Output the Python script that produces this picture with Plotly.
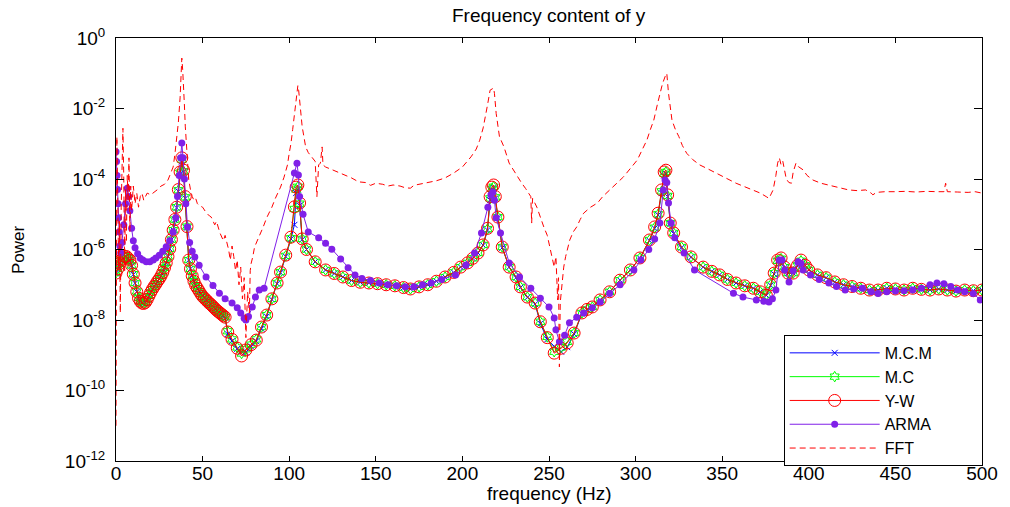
import plotly.graph_objects as go

# ---- data (power given as log10 of the value) ----

# shared frequency grid of the three AR estimates (Hz)
est_freq = list(range(64)) + [
    64.5, 67, 70, 72.5, 75, 78, 81, 84, 87, 90,
    93, 95, 98, 101, 103, 104, 105, 106, 107.5, 110,
    115, 121, 126, 131, 136, 141, 146, 151, 156, 161,
    166, 170, 175, 180, 185, 190, 195, 199, 203, 206,
    209, 212, 214.5, 216, 217, 218, 219, 220.5, 223, 227,
    231, 233.5, 237.5, 242, 245, 249, 253, 257, 260.5, 264.5,
    269, 272, 275, 279.5, 285, 291, 297, 302.5, 308, 311,
    313, 315, 316.5, 317.5, 318.5, 320, 322, 326.5, 332, 339,
    344, 348.5, 353, 358, 363, 368, 372, 375.5, 378, 380,
    382, 384, 386, 388, 391, 393.5, 395.5, 398, 400, 405,
    410, 415, 420, 425, 430, 435, 440, 445, 450, 455,
    460, 465, 470, 475, 480, 485, 490, 495, 500,
]

yw_log10 = [
    -6.67, -6.55, -6.4, -6.3, -6.25, -6.2, -6.2, -6.25,
    -6.3, -6.45, -6.7, -6.95, -7.2, -7.38, -7.47, -7.52,
    -7.53, -7.5, -7.42, -7.32, -7.22, -7.13, -7.05, -6.98,
    -6.9, -6.83, -6.75, -6.65, -6.52, -6.38, -6.2, -5.98,
    -5.72, -5.45, -5.15, -4.8, -4.3, -3.8, -3.4, -3.75,
    -4.5, -5.35, -6.3, -6.55, -6.75, -6.9, -7.02, -7.1,
    -7.18, -7.26, -7.33, -7.38, -7.43, -7.48, -7.53, -7.57,
    -7.62, -7.67, -7.72, -7.76, -7.8, -7.84, -7.88, -7.92,
    -8.34, -8.55, -8.8, -9.02, -8.85, -8.7, -8.57, -8.2, -7.86, -7.4,
    -6.95, -6.64, -6.16, -5.65, -4.79, -4.23, -4.17, -4.68, -5.7, -6.0,
    -6.35, -6.58, -6.68, -6.78, -6.88, -6.93, -6.95, -6.97, -7.0, -7.03,
    -7.08, -7.12, -7.06, -7.0, -6.9, -6.78, -6.65, -6.5, -6.38, -6.25,
    -6.1, -5.87, -5.4, -4.5, -4.23, -4.17, -4.5, -5.08, -5.93, -6.5,
    -6.78, -7.06, -7.35, -7.52, -8.05, -8.5, -8.94, -8.8, -8.65, -8.37,
    -7.8, -7.7, -7.63, -7.43, -7.2, -6.87, -6.58, -6.24, -5.73, -5.36,
    -4.97, -4.31, -3.8, -3.75, -4.45, -5.25, -5.53, -5.93, -6.21, -6.5,
    -6.62, -6.72, -6.85, -6.95, -7.03, -7.1, -7.2, -7.3, -7.0, -6.67,
    -6.3, -6.24, -6.5, -6.67, -6.67, -6.45, -6.3, -6.45, -6.58, -6.72,
    -6.8, -6.92, -7.0, -7.05, -7.1, -7.15, -7.15, -7.1, -7.12, -7.15,
    -7.1, -7.13, -7.15, -7.12, -7.15, -7.18, -7.15, -7.17, -7.15,
]

mc_log10 = [
    -6.66, -6.55, -6.41, -6.3, -6.24, -6.2, -6.21, -6.25,
    -6.31, -6.45, -6.7, -6.95, -7.19, -7.37, -7.47, -7.51,
    -7.53, -7.49, -7.42, -7.32, -7.22, -7.13, -7.05, -6.98,
    -6.9, -6.83, -6.75, -6.65, -6.52, -6.38, -6.2, -5.98,
    -5.72, -5.45, -5.15, -4.8, -4.32, -3.82, -3.45, -3.78,
    -4.52, -5.35, -6.3, -6.55, -6.75, -6.9, -7.02, -7.1,
    -7.18, -7.26, -7.33, -7.38, -7.43, -7.48, -7.53, -7.57,
    -7.62, -7.67, -7.72, -7.76, -7.8, -7.84, -7.88, -7.92,
    -8.32, -8.55, -8.78, -8.95, -8.83, -8.7, -8.55, -8.2, -7.86, -7.4,
    -6.95, -6.64, -6.18, -5.68, -4.85, -4.3, -4.22, -4.7, -5.7, -6.0,
    -6.35, -6.58, -6.68, -6.78, -6.88, -6.93, -6.95, -6.97, -7.0, -7.03,
    -7.08, -7.12, -7.06, -7.0, -6.9, -6.78, -6.65, -6.5, -6.38, -6.25,
    -6.1, -5.87, -5.42, -4.55, -4.28, -4.22, -4.52, -5.08, -5.93, -6.5,
    -6.78, -7.06, -7.35, -7.52, -8.05, -8.48, -8.9, -8.78, -8.62, -8.37,
    -7.8, -7.7, -7.63, -7.43, -7.2, -6.87, -6.58, -6.24, -5.73, -5.38,
    -5.0, -4.35, -3.85, -3.8, -4.48, -5.25, -5.53, -5.93, -6.21, -6.5,
    -6.62, -6.72, -6.85, -6.95, -7.03, -7.1, -7.2, -7.28, -7.0, -6.67,
    -6.32, -6.26, -6.5, -6.67, -6.67, -6.45, -6.32, -6.45, -6.58, -6.72,
    -6.8, -6.92, -7.0, -7.05, -7.1, -7.15, -7.15, -7.1, -7.12, -7.15,
    -7.1, -7.13, -7.15, -7.12, -7.15, -7.18, -7.15, -7.17, -7.15,
]

mcm_log10 = [
    -6.68, -6.56, -6.41, -6.31, -6.25, -6.21, -6.21, -6.26,
    -6.31, -6.46, -6.71, -6.96, -7.2, -7.38, -7.48, -7.52,
    -7.53, -7.5, -7.42, -7.32, -7.22, -7.13, -7.05, -6.98,
    -6.9, -6.83, -6.75, -6.65, -6.52, -6.38, -6.2, -5.98,
    -5.72, -5.45, -5.16, -4.82, -4.35, -3.85, -3.5, -3.8,
    -4.55, -5.38, -6.3, -6.55, -6.75, -6.9, -7.02, -7.1,
    -7.18, -7.26, -7.33, -7.38, -7.43, -7.48, -7.53, -7.57,
    -7.62, -7.67, -7.72, -7.76, -7.8, -7.84, -7.88, -7.93,
    -8.4, -8.6, -8.82, -8.9, -8.92, -8.75, -8.6, -8.25, -7.9, -7.42,
    -6.97, -6.66, -6.2, -5.7, -5.3, -4.4, -4.3, -4.75, -5.72, -6.0,
    -6.35, -6.58, -6.68, -6.78, -6.88, -6.93, -6.95, -6.97, -7.0, -7.03,
    -7.08, -7.12, -7.06, -7.0, -6.9, -6.78, -6.65, -6.5, -6.38, -6.25,
    -6.1, -5.88, -5.45, -4.6, -4.3, -4.25, -4.55, -5.1, -5.95, -6.5,
    -6.8, -7.08, -7.36, -7.55, -8.1, -8.55, -8.75, -8.9, -8.77, -8.4,
    -7.82, -7.7, -7.63, -7.43, -7.2, -6.87, -6.58, -6.25, -5.75, -5.4,
    -5.02, -4.4, -3.9, -3.85, -4.5, -5.28, -5.55, -5.95, -6.22, -6.5,
    -6.62, -6.72, -6.85, -6.95, -7.03, -7.1, -7.2, -7.3, -7.02, -6.7,
    -6.33, -6.27, -6.52, -6.67, -6.67, -6.47, -6.33, -6.45, -6.58, -6.72,
    -6.8, -6.92, -7.0, -7.05, -7.1, -7.15, -7.15, -7.1, -7.12, -7.15,
    -7.1, -7.13, -7.15, -7.12, -7.15, -7.18, -7.15, -7.17, -7.15,
]

arma_freq = [
    0, 0.3, 0.6, 0.9, 1.2, 1.5, 1.8, 2.2, 2.7, 3.5,
    4.5, 5.5, 6.5, 7.3, 8, 9, 10, 11, 12.5, 14,
    15.5, 17.5, 19.5, 21.5, 23, 25, 27, 29, 31, 33,
    34.5, 35.5, 36.5, 37.3, 38, 38.7, 39.5, 40.3, 41.3, 42.5,
    44, 45.5, 48, 52, 56, 59.7, 63, 67, 70, 72,
    74, 75, 76.5, 78.7, 80.5, 82.7, 85.5, 103, 104.5, 105.3,
    106, 108, 111, 117, 121, 124.6, 129.7, 134, 138, 142,
    147, 152, 157, 162, 167, 172, 177, 182, 188, 196,
    202, 207, 211, 214.7, 216.5, 217.6, 218.5, 219.5, 222, 227,
    233, 239.5, 245, 250, 253, 254, 256, 259, 261.8, 266,
    270, 275, 279.6, 285, 291, 299, 303, 307.6, 311, 314,
    316, 317, 318, 319, 320.5, 322.6, 328, 334, 356.5, 362,
    369.7, 374, 377, 379, 381, 383, 384.5, 386, 388.6, 391,
    393.8, 395.5, 396.7, 401, 406, 411.6, 416, 421, 426, 431,
    436, 440, 445, 450, 455, 460, 465, 470, 474, 478,
    482, 486, 490, 495, 499,
]

arma_log10 = [
    -3.23, -3.5, -3.9, -4.3, -4.7, -5.1, -5.5, -5.9, -6.1, -5.8,
    -5.3, -4.7, -4.26, -4.5, -4.9, -5.4, -5.75, -5.95, -6.12, -6.25,
    -6.3, -6.35, -6.35, -6.3, -6.24, -6.16, -6.05, -5.92, -5.75, -5.5,
    -5.1, -4.5, -3.9, -3.4, -2.98, -3.4, -4.0, -4.7, -5.36, -5.8,
    -6.05, -6.21, -6.45, -6.78, -7.02, -7.24, -7.4, -7.52, -7.65, -7.8,
    -7.95, -8.0, -7.9, -7.63, -7.35, -7.15, -7.1, -3.83, -3.55, -3.89,
    -4.5, -5.0, -5.5, -5.67, -5.82, -5.99, -6.27, -6.52, -6.72, -6.82,
    -6.88, -6.95, -7.0, -7.03, -7.06, -7.06, -7.0, -6.95, -6.85, -6.72,
    -6.45, -6.1, -5.53, -4.8, -4.45, -4.37, -4.6, -5.1, -5.53, -6.38,
    -6.78, -7.1, -7.38, -7.63, -7.94, -8.28, -8.62, -8.43, -8.08, -7.92,
    -7.8, -7.65, -7.49, -7.25, -7.0, -6.58, -6.3, -6.0, -5.7, -5.25,
    -4.31, -4.03, -4.1, -4.68, -5.25, -5.67, -6.1, -6.58, -7.24, -7.35,
    -7.43, -7.47, -7.49, -7.4, -7.15, -6.3, -6.3, -6.58, -6.92, -6.6,
    -6.35, -6.4, -6.58, -6.72, -6.85, -6.95, -7.05, -7.15, -7.12, -7.1,
    -7.2, -7.25, -7.2, -7.18, -7.17, -7.15, -7.1, -7.0, -6.95, -6.97,
    -7.05, -7.15, -7.2, -7.25, -7.43,
]

fft_freq = [
    0, 0.5, 1, 1.5, 2, 2.5, 3, 3.5, 4, 4.5,
    5, 5.5, 6, 6.5, 7, 7.5, 8, 8.5, 9, 10,
    11, 12, 13, 14, 15, 16, 17, 18, 20, 22,
    24, 26, 28, 30, 32, 33, 34, 35, 36, 37,
    37.5, 38, 38.5, 39, 39.5, 40, 41, 42, 43, 44,
    45, 46, 47, 48, 50, 52, 54, 55, 57, 58,
    60, 62, 63, 65, 66, 67, 68, 69, 70, 71,
    72, 73, 74, 75, 76, 77, 77.5, 78, 79, 80,
    82, 84, 85, 87, 89, 90, 92, 94, 95, 97,
    99, 100, 101, 102, 103, 104, 105, 105.5, 106, 107,
    107.5, 108.5, 109.5, 111, 113, 115, 116, 117, 118, 119,
    119.5, 121, 124, 127, 130, 133, 136, 140, 144, 147,
    150, 154, 157, 160, 164, 167, 170, 172, 175, 180,
    185, 190, 195, 200, 203, 205, 208, 210, 212, 213,
    214.5, 216, 217, 218, 218.5, 219.5, 221.4, 224, 227, 230,
    232, 234, 236.5, 239.5, 240, 240.5, 243, 245, 247, 249,
    250, 251.5, 253, 254, 255, 255.5, 256, 256.5, 257.7, 258.5,
    259.6, 261, 262, 264, 266, 268, 270, 274, 278, 281,
    285, 289, 293, 297, 301, 304, 306.5, 308.5, 310.5, 312.5,
    314, 315.5, 317, 318, 319, 320, 321, 323, 325, 327,
    329.5, 333, 337, 342, 346.7, 352, 358, 363, 368, 372,
    375.4, 377, 378.5, 379.4, 381, 382, 383, 384, 385, 386,
    387, 388.5, 390, 391, 392.6, 394, 396.7, 399, 402.4, 407,
    411.6, 417, 423, 428, 432.8, 436, 437, 439, 444, 450,
    456, 462, 468, 474, 478, 479, 480, 486, 492, 496,
    500,
]

fft_log10 = [
    -11.0, -2.8, -4.5, -6.5, -5.2, -7.8, -4.8, -3.3, -2.56, -4.0,
    -6.6, -4.3, -5.8, -3.9, -4.6, -3.4, -5.5, -4.2, -4.9, -4.2,
    -4.7, -4.4, -4.8, -4.5, -4.4, -4.6, -4.5, -4.4, -4.45, -4.38,
    -4.3, -4.2, -4.15, -4.03, -3.8, -3.66, -3.3, -2.9, -2.4, -1.7,
    -1.2, -0.57, -0.9, -1.3, -1.9, -2.5, -3.3, -4.03, -4.3, -4.5,
    -4.6, -4.55, -4.7, -4.75, -4.8, -4.95, -5.05, -5.08, -5.3, -5.2,
    -5.53, -5.75, -5.6, -6.0, -6.3, -5.9, -6.2, -6.6, -6.3, -7.0,
    -6.5, -7.4, -6.8, -8.5, -7.2, -7.8, -6.6, -6.4, -6.2, -5.93,
    -5.7, -5.5, -5.36, -5.1, -4.9, -4.8, -4.55, -4.35, -4.23, -3.95,
    -3.6, -3.27, -3.0, -2.6, -2.2, -1.8, -1.35, -1.5, -1.76, -2.2,
    -2.52, -2.8, -3.09, -3.25, -3.37, -3.5, -4.5, -3.6, -3.55, -3.09,
    -3.6, -3.66, -3.72, -3.78, -3.83, -3.9, -3.97, -4.08, -4.1, -4.18,
    -4.12, -4.15, -4.2, -4.17, -4.2, -4.25, -4.26, -4.18, -4.15, -4.12,
    -4.05, -3.97, -3.83, -3.66, -3.5, -3.37, -3.15, -2.9, -2.55, -2.24,
    -1.9, -1.48, -1.45, -1.42, -1.57, -2.14, -2.8, -3.09, -3.55, -3.8,
    -3.94, -4.1, -4.27, -4.5, -5.25, -4.55, -4.8, -5.1, -5.36, -5.6,
    -5.82, -6.1, -6.5, -6.2, -7.43, -6.8, -9.33, -7.5, -6.87, -6.5,
    -6.2, -5.9, -5.73, -5.5, -5.36, -5.15, -4.97, -4.8, -4.68, -4.5,
    -4.31, -4.12, -3.94, -3.7, -3.46, -3.15, -2.9, -2.6, -2.33, -1.9,
    -1.57, -1.3, -1.1, -1.0, -1.57, -2.0, -2.33, -2.6, -2.8, -3.05,
    -3.27, -3.45, -3.6, -3.72, -3.83, -3.97, -4.12, -4.22, -4.31, -4.4,
    -4.5, -4.55, -4.4, -4.31, -3.9, -3.55, -3.4, -3.6, -3.5, -3.74,
    -4.0, -4.1, -4.12, -3.8, -3.55, -3.65, -3.74, -3.9, -4.03, -4.12,
    -4.17, -4.25, -4.31, -4.33, -4.31, -4.4, -4.45, -4.38, -4.36, -4.36,
    -4.35, -4.37, -4.35, -4.36, -4.36, -4.12, -4.36, -4.37, -4.38, -4.36,
    -4.4,
]

x_ticks = [0, 50, 100, 150, 200, 250, 300, 350, 400, 450, 500]
y_tick_exponents = [-12, -10, -8, -6, -4, -2, 0]
y_tick_labels = [f"10<sup>{e}</sup>" for e in y_tick_exponents]

FONT = "Liberation Sans, Arial, sans-serif"
PAD = "&nbsp;" * 10  # matlab legend boxes are wider than their text


def to_power(log_values):
    return [10 ** v for v in log_values]


fig = go.Figure()

fig.add_trace(go.Scatter(
    x=est_freq, y=to_power(mcm_log10), name="M.C.M" + PAD, mode="lines+markers",
    line=dict(color="#0000ff", width=1),
    marker=dict(symbol="x-thin-open", size=6, line=dict(color="#0000ff", width=1)),
))
fig.add_trace(go.Scatter(
    x=est_freq, y=to_power(mc_log10), name="M.C", mode="lines+markers",
    line=dict(color="#00ff00", width=1),
    marker=dict(symbol="hexagram-open", size=8, color="#00ff00",
                line=dict(color="#00ff00", width=1)),
))
fig.add_trace(go.Scatter(
    x=est_freq, y=to_power(yw_log10), name="Y-W", mode="lines+markers",
    line=dict(color="#ff0000", width=1),
    marker=dict(symbol="circle-open", size=12, color="#ff0000",
                line=dict(color="#ff0000", width=1)),
))
fig.add_trace(go.Scatter(
    x=arma_freq, y=to_power(arma_log10), name="ARMA", mode="lines+markers",
    line=dict(color="#8020e8", width=1),
    marker=dict(symbol="circle", size=7, color="#8020e8"),
))
fig.add_trace(go.Scatter(
    x=fft_freq, y=to_power(fft_log10), name="FFT", mode="lines",
    line=dict(color="#ff0000", width=1, dash="6px,4px"),
))

axis_common = dict(
    showline=True, linecolor="black", linewidth=1, mirror="ticks",
    ticks="inside", tickcolor="black", showgrid=False, zeroline=False,
    tickfont=dict(family=FONT, size=19, color="black"),
)

fig.update_xaxes(
    range=[0, 500], tickvals=x_ticks, ticklen=5, ticklabelstandoff=-5,
    **axis_common,
)
fig.update_yaxes(
    type="log", range=[-12, 0],
    tickvals=[10 ** e for e in y_tick_exponents], ticktext=y_tick_labels,
    ticklen=8, ticklabelstandoff=6,
    **axis_common,
)

fig.update_layout(
    width=1010, height=507,
    margin=dict(l=116, r=23, t=38, b=46),
    paper_bgcolor="white", plot_bgcolor="white",
    font=dict(family=FONT, color="black"),
    showlegend=True,
    legend=dict(
        x=0.771, y=0.298, xanchor="left", yanchor="top",
        bgcolor="white", bordercolor="black", borderwidth=1,
        font=dict(family=FONT, size=16, color="black"),
        itemwidth=90, tracegroupgap=0,
    ),
    annotations=[
        dict(text="Frequency content of y", x=0.5, y=1 + 23 / 423,
             xref="paper", yref="paper", xanchor="center", yanchor="middle",
             showarrow=False, font=dict(family=FONT, size=19, color="black")),
        dict(text="frequency (Hz)", x=0.5, y=-32 / 423,
             xref="paper", yref="paper", xanchor="center", yanchor="middle",
             showarrow=False, font=dict(family=FONT, size=19, color="black")),
        dict(text="Power", x=-98 / 871, y=0.5, textangle=-90,
             xref="paper", yref="paper", xanchor="center", yanchor="middle",
             showarrow=False, font=dict(family=FONT, size=17, color="black")),
    ],
)

fig.write_html(
    "out.html",
    config={"displayModeBar": False},
    post_script="document.body.style.margin = '0';",
)
